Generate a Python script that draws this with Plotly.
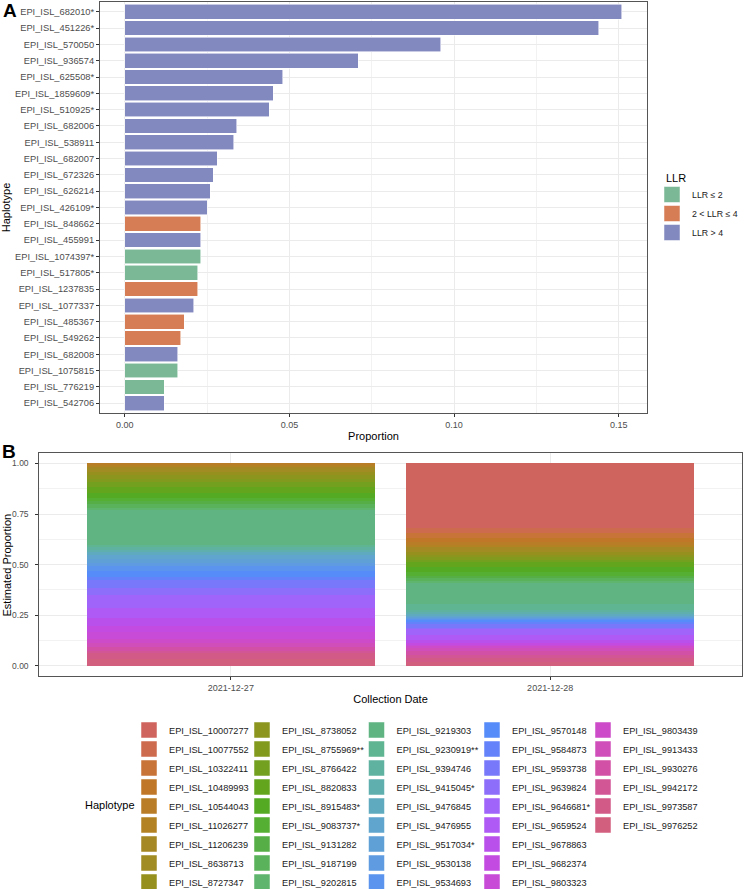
import plotly.graph_objects as go

# ---------------- Panel A data ----------------
haplotypes_a = ["EPI_ISL_682010*", "EPI_ISL_451226*", "EPI_ISL_570050", "EPI_ISL_936574",
                "EPI_ISL_625508*", "EPI_ISL_1859609*", "EPI_ISL_510925*", "EPI_ISL_682006",
                "EPI_ISL_538911", "EPI_ISL_682007", "EPI_ISL_672326", "EPI_ISL_626214",
                "EPI_ISL_426109*", "EPI_ISL_848662", "EPI_ISL_455991", "EPI_ISL_1074397*",
                "EPI_ISL_517805*", "EPI_ISL_1237835", "EPI_ISL_1077337", "EPI_ISL_485367",
                "EPI_ISL_549262", "EPI_ISL_682008", "EPI_ISL_1075815", "EPI_ISL_776219",
                "EPI_ISL_542706"]
proportion_a = [0.151, 0.1439, 0.0959, 0.0709, 0.048, 0.045, 0.0439, 0.034, 0.033, 0.028,
                0.0269, 0.026, 0.025, 0.0231, 0.0231, 0.0231, 0.0221, 0.0221, 0.021, 0.018,
                0.017, 0.016, 0.016, 0.0119, 0.0119]
llr_a = ["LLR > 4"] * 13 + ["2 < LLR ≤ 4", "LLR > 4", "LLR ≤ 2", "LLR ≤ 2", "2 < LLR ≤ 4",
                           "LLR > 4", "2 < LLR ≤ 4", "2 < LLR ≤ 4", "LLR > 4", "LLR ≤ 2",
                           "LLR ≤ 2", "LLR > 4"]
llr_levels = ["LLR ≤ 2", "2 < LLR ≤ 4", "LLR > 4"]
llr_colors = ["#7AB896", "#D77D56", "#8289BF"]

# ---------------- Panel B data ----------------
dates_b = ["2021-12-27", "2021-12-28"]
haplotypes_b = ["EPI_ISL_10007277", "EPI_ISL_10077552", "EPI_ISL_10322411", "EPI_ISL_10489993",
                "EPI_ISL_10544043", "EPI_ISL_11026277", "EPI_ISL_11206239", "EPI_ISL_8638713",
                "EPI_ISL_8727347", "EPI_ISL_8738052", "EPI_ISL_8755969**", "EPI_ISL_8766422",
                "EPI_ISL_8820833", "EPI_ISL_8915483*", "EPI_ISL_9083737*", "EPI_ISL_9131282",
                "EPI_ISL_9187199", "EPI_ISL_9202815", "EPI_ISL_9219303", "EPI_ISL_9230919**",
                "EPI_ISL_9394746", "EPI_ISL_9415045*", "EPI_ISL_9476845", "EPI_ISL_9476955",
                "EPI_ISL_9517034*", "EPI_ISL_9530138", "EPI_ISL_9534693", "EPI_ISL_9570148",
                "EPI_ISL_9584873", "EPI_ISL_9593738", "EPI_ISL_9639824", "EPI_ISL_9646681*",
                "EPI_ISL_9659524", "EPI_ISL_9678863", "EPI_ISL_9682374", "EPI_ISL_9803323",
                "EPI_ISL_9803439", "EPI_ISL_9913433", "EPI_ISL_9930276", "EPI_ISL_9942172",
                "EPI_ISL_9973587", "EPI_ISL_9976252"]
prop_20211227 = [0.0, 0.0, 0.0, 0.0, 0.005, 0.01, 0.01, 0.015, 0.015, 0.02,
                 0.015, 0.025, 0.03, 0.026, 0.015, 0.015, 0.017, 0.012, 0.17, 0.01,
                 0.016, 0.01, 0.015, 0.02, 0.02, 0.017, 0.02, 0.03, 0.016, 0.04,
                 0.034, 0.065, 0.05, 0.041, 0.03, 0.03, 0.022, 0.02, 0.021, 0.01,
                 0.03, 0.032]
prop_20211228 = [0.317, 0.028, 0.021, 0.02, 0.015, 0.013, 0.013, 0.012, 0.012, 0.012,
                 0.012, 0.01, 0.025, 0.024, 0.02, 0.013, 0.016, 0.01, 0.1, 0.03,
                 0.012, 0.01, 0.011, 0.004, 0.004, 0.004, 0.004, 0.008, 0.015, 0.018,
                 0.005, 0.03, 0.025, 0.014, 0.008, 0.008, 0.01, 0.015, 0.02, 0.015,
                 0.02, 0.017]
colors_b = ["#CF645F", "#CD6B4F", "#C87337", "#C07828", "#B97D28", "#B28223", "#A58723",
            "#A08C23", "#96911E", "#8C961E", "#829B1E", "#73A01E", "#64A51E", "#55AA23",
            "#55AF32", "#55AF46", "#5AB25A", "#5FB46E", "#5FB482", "#5FB491", "#5FB2A0",
            "#5FAFAF", "#5FAABE", "#5FA5CD", "#5FA0D7", "#5F9BE1", "#5A94EE", "#558CFA",
            "#6482FA", "#7878FA", "#8C6EFA", "#A064FA", "#AF5AF5", "#B950EB", "#C34BE1",
            "#C84BD7", "#CD4BC8", "#D04EB9", "#D250A5", "#D25596", "#D25A87", "#D25F7D"]

FONT = "Liberation Sans, Arial, sans-serif"
W, H = 744, 889


def px(xp):
    return xp / W


def py(yp):
    return 1 - yp / H


n_b = len(haplotypes_b)
fig = go.Figure()

# Panel A bars
for lvl, col in zip(llr_levels, llr_colors):
    xs = [p for p, g in zip(proportion_a, llr_a) if g == lvl]
    ys = [hname for hname, g in zip(haplotypes_a, llr_a) if g == lvl]
    fig.add_trace(go.Bar(x=xs, y=ys, orientation="h", marker_color=col,
                         marker_line=dict(color="rgba(255,255,255,0.7)", width=0.8),
                         xaxis="x", yaxis="y", showlegend=False, name=lvl))
for lvl, col in zip(llr_levels, llr_colors):
    fig.add_trace(go.Scatter(x=[None], y=[None], mode="markers", name=lvl,
                             marker=dict(symbol="square", size=16, color=col,
                                         line=dict(color="white", width=0.5)),
                             xaxis="x", yaxis="y", legend="legend", showlegend=True))

# Panel B stacked bars (first level on top -> add in reverse)
for i in reversed(range(n_b)):
    fig.add_trace(go.Bar(x=dates_b, y=[prop_20211227[i], prop_20211228[i]],
                         marker_color=colors_b[i], marker_line_width=0,
                         xaxis="x2", yaxis="y2", showlegend=False, name=haplotypes_b[i]))

legend_names = ["legend2", "legend3", "legend4", "legend5", "legend6"]
for i in range(n_b):
    fig.add_trace(go.Scatter(x=[None], y=[None], mode="markers", name=haplotypes_b[i],
                             marker=dict(symbol="square", size=16, color=colors_b[i],
                                         line=dict(color="white", width=0.5)),
                             xaxis="x2", yaxis="y2", legend=legend_names[i // 9],
                             showlegend=True))

axis_common = dict(showline=True, mirror=True, linecolor="#555555", linewidth=1,
                   ticks="outside", ticklen=3, tickcolor="#333333", tickwidth=1,
                   gridcolor="#EBEBEB", gridwidth=1, zeroline=False, automargin=False)
tick_font = dict(size=9, color="#4D4D4D", family=FONT)

layout = dict(
    width=W, height=H, margin=dict(l=0, r=0, t=0, b=0, autoexpand=False),
    paper_bgcolor="white", plot_bgcolor="white",
    font=dict(family=FONT, color="black"),
    barmode="stack", bargap=0.1, showlegend=True,
    xaxis=dict(domain=[px(100), px(647)], anchor="y", range=[-0.00755, 0.1586],
               tickvals=[0, 0.05, 0.10, 0.15], ticktext=["0.00", "0.05", "0.10", "0.15"],
               minor=dict(tickvals=[0.025, 0.075, 0.125], showgrid=True,
                          gridcolor="#F2F2F2", gridwidth=0.6, ticks=""),
               title=dict(text="Proportion", font=dict(size=11), standoff=3),
               tickfont=tick_font, **axis_common),
    yaxis=dict(domain=[py(413), py(2)], anchor="x", type="category",
               categoryorder="array", categoryarray=haplotypes_a,
               range=[len(haplotypes_a) - 0.4, -0.6],
               title=dict(text="Haplotype", font=dict(size=11), standoff=3),
               tickfont=dict(size=9.3, color="#4D4D4D", family=FONT), **axis_common),
    xaxis2=dict(domain=[px(39.3), px(741.7)], anchor="y2", type="category",
                categoryorder="array", categoryarray=dates_b, range=[-0.6, 1.6],
                title=dict(text="Collection Date", font=dict(size=11), standoff=3),
                tickfont=tick_font, **axis_common),
    yaxis2=dict(domain=[py(676), py(453.3)], anchor="x2", range=[-0.05, 1.05],
                tickvals=[0, 0.25, 0.5, 0.75, 1.0],
                ticktext=["0.00", "0.25", "0.50", "0.75", "1.00"],
                minor=dict(tickvals=[0.125, 0.375, 0.625, 0.875], showgrid=True,
                           gridcolor="#F2F2F2", gridwidth=0.6, ticks=""),
                ticklabelstandoff=5, tickfont=dict(size=8.5, color="#4D4D4D", family=FONT),
                **axis_common),
    legend=dict(x=px(652), y=py(180), xanchor="left", yanchor="top",
                font=dict(size=8.8, color="#1A1A1A"), tracegroupgap=0,
                traceorder="normal", bgcolor="rgba(0,0,0,0)"),
    annotations=[
        dict(text="<b>A</b>", x=px(1), y=py(-2), xref="paper", yref="paper",
             xanchor="left", yanchor="top", showarrow=False, font=dict(size=19)),
        dict(text="<b>B</b>", x=px(0), y=py(439), xref="paper", yref="paper",
             xanchor="left", yanchor="top", showarrow=False, font=dict(size=19)),
        dict(text="LLR", x=px(664), y=py(178), xref="paper", yref="paper",
             xanchor="left", yanchor="middle", showarrow=False, font=dict(size=11)),
        dict(text="Estimated Proportion", x=px(6.5), y=py(565), xref="paper", yref="paper",
             xanchor="center", yanchor="middle", textangle=-90, showarrow=False,
             font=dict(size=11)),
        dict(text="Haplotype", x=px(110), y=py(805), xref="paper", yref="paper",
             xanchor="center", yanchor="middle", showarrow=False, font=dict(size=11)),
    ],
)

legend_x = [129, 242, 356.5, 472, 583]
for name, lx in zip(legend_names, legend_x):
    layout[name] = dict(x=px(lx), y=py(715.5), xanchor="left", yanchor="top",
                        font=dict(size=9.2, color="#1A1A1A"), tracegroupgap=0,
                        traceorder="normal", bgcolor="rgba(0,0,0,0)")

fig.update_layout(**layout)
fig.write_html("out.html", config={"displayModeBar": False},
               post_script="document.body.style.margin='0px';")
